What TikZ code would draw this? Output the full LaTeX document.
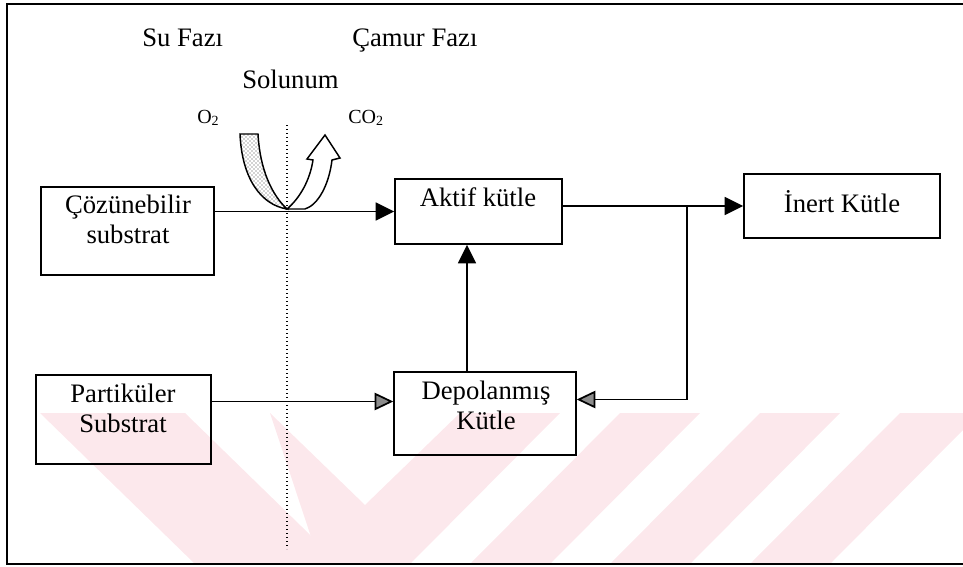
\documentclass[tikz,border=0pt]{standalone}
\usepackage{fontspec}
\setmainfont{Liberation Serif}
\usetikzlibrary{arrows.meta,calc,patterns}

\definecolor{filigran}{RGB}{252,232,236}

\tikzset{
  kutu/.style={draw, line width=1.1pt, inner sep=0pt},
  yazi/.style={anchor=base, inner sep=0pt, font=\fontsize{20}{24}\selectfont},
  kucuk/.style={anchor=base west, inner sep=0pt, font=\fontsize{15}{18}\selectfont},
  ok/.style={line width=1.3pt, -{Triangle[length=14pt,width=13.5pt]}},
  griok/.style={line width=1.3pt, -{Triangle[length=14pt,width=13pt,fill=black!45]}},
}

\begin{document}
\begin{tikzpicture}[x=0.75pt,y=0.75pt,yscale=-1,xscale=1]
\useasboundingbox (0,0) rectangle (963,567);

% background mark
\fill[filigran] (40,413) -- (185,413) -- (340,564) -- (195,564) -- cycle;
\fill[filigran] (270,413) -- (365,505) -- (460,413) -- (560,413) -- (410,564) -- (320,564) -- cycle;
\fill[filigran] (620,413) -- (700,413) -- (550,564) -- (470,564) -- cycle;
\fill[filigran] (760,413) -- (840,413) -- (690,564) -- (610,564) -- cycle;
\fill[filigran] (900,413) -- (963,413) -- (963,430) -- (830,564) -- (750,564) -- cycle;

% frame
\draw[line width=1.3pt] (963,4) -- (7,4) -- (7,564) -- (963,564);

% phase border
\coordinate (sinirust) at (287,125);
\coordinate (siniralt) at (287,549);
\draw[dotted, line width=1pt] (sinirust) -- (siniralt);

% boxes
\node[kutu, minimum width=129.75pt, minimum height=66pt] (coz) at (127.5,231) {};
\node[kutu, minimum width=125.25pt, minimum height=48.75pt] (aktif) at (478.5,211.5) {};
\node[kutu, minimum width=147pt, minimum height=48pt] (inert) at (842,206) {};
\node[kutu, minimum width=131.25pt, minimum height=66.75pt] (part) at (123.5,419.5) {};
\node[kutu, minimum width=136.5pt, minimum height=62.25pt] (depo) at (485,413.5) {};

% box texts
\node[yazi] (coz1) at (128,213) {Çözünebilir};
\node[yazi] (coz2) at (128,243) {substrat};
\node[yazi] (aktif1) at (478,206) {Aktif kütle};
\node[yazi] (inert1) at (842,212) {İnert Kütle};
\node[yazi] (part1) at (123,402) {Partiküler};
\node[yazi] (part2) at (123,432) {Substrat};
\node[yazi] (depo1) at (486,399) {Depolanmış};
\node[yazi] (depo2) at (486,429) {Kütle};

% titles
\node[yazi, anchor=base west] (sufazi) at (142,47) {Su Fazı};
\node[yazi, anchor=base west] (camur) at (352,47) {Çamur Fazı};
\node[yazi, anchor=base west] (solunum) at (242,89) {Solunum};
\node[kucuk] (oksijen) at (197,123) {O\textsubscript{2}};
\node[kucuk] (karbon) at (348,123) {CO\textsubscript{2}};

% connectors
\draw[ok] (coz.east |- aktif.west) -- (aktif.west);
\draw[ok] (aktif.east |- inert.west) -- (inert.west);
\coordinate (dal) at ($(aktif.east |- inert.west)!0.69!(inert.west)$);
\coordinate (depog) at ($(depo.east)+(0,-14)$);
\draw[griok] (dal) |- (depog);
\coordinate (depol) at ($(depo.west)+(0,-12)$);
\draw[griok] (part.east |- depol) -- (depol);
\coordinate (depou) at ($(depo.north)+(-18,0)$);
\draw[ok] (depou) -- (depou |- aktif.south);

% O2 in, CO2 out
\draw[line width=1.1pt, pattern=crosshatch dots, pattern color=black!75]
  (240,134) .. controls (242,180) and (262,205) .. (287,209)
  .. controls (272,195) and (260,170) .. (258,134) -- cycle;
\draw[line width=1.1pt, fill=white]
  (287,209) .. controls (300,198) and (310,180) .. (313,160) -- (307,159) -- (325,135)
  -- (340,158) -- (332,160) .. controls (329,185) and (318,205) .. (305,209) -- cycle;

\end{tikzpicture}
\end{document}
